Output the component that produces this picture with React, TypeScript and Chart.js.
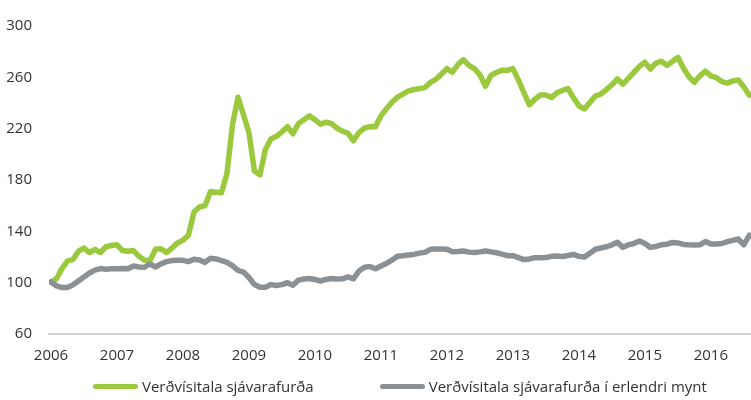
import React, { useEffect, useRef } from "react";
import { Chart, registerables } from "chart.js";

Chart.register(...registerables);

// Monthly values, Jan 2006 – Aug 2016
const yearTicks = [2006, 2007, 2008, 2009, 2010, 2011, 2012, 2013, 2014, 2015, 2016];

const seafoodIndex = [
  // 2006
  100.5, 103, 111, 117, 118, 124.5, 127, 123.5, 126, 123.5, 128, 129,
  // 2007
  129.5, 125, 124.5, 125, 120.5, 117.5, 117, 126, 126.5, 123.5, 127, 131,
  // 2008
  133, 137, 155, 159, 160, 171, 170.5, 170, 185, 223, 244.5, 231,
  // 2009
  217, 187, 184, 204, 212, 214, 217.5, 221.5, 216, 224, 227, 230,
  // 2010
  227, 223.5, 225, 224, 220.5, 218, 216.5, 210.5, 217, 220.5, 221.5, 221.5,
  // 2011
  230, 235.5, 240.5, 244.5, 247, 249.5, 250.5, 251.2, 252, 256, 258.5, 262.5,
  // 2012
  266.8, 264, 270, 273.8, 269.3, 266.8, 262, 253, 261.5, 263.8, 265.5, 265.5,
  // 2013
  266.8, 258, 248, 238.6, 242.9, 246.2, 246.2, 244.2, 248, 249.8, 251.3, 244.2,
  // 2014
  237.8, 235.3, 240.4, 245.4, 247, 250.4, 254.2, 258.7, 254.7, 259.2, 263.8, 268.5,
  // 2015
  271.8, 266.5, 271, 272.6, 269.3, 272.3, 275.6, 267.3, 260.5, 256.2, 261.2, 264.8,
  // 2016
  261.2, 259.7, 256.7, 255.5, 257.2, 258, 252.5, 246,
];

const seafoodIndexForeign = [
  // 2006
  100.5, 97.5, 96.2, 96.2, 98.3, 101.3, 104.5, 107.5, 109.8, 111, 110.5, 110.8,
  // 2007
  110.8, 111, 110.8, 113, 112.2, 112, 114.6, 112.2, 114.6, 116.4, 117.2, 117.4,
  // 2008
  117.4, 116.4, 118.3, 117.6, 115.8, 119, 118.5, 117.2, 115.8, 113.3, 109.6, 108.3,
  // 2009
  104, 98.5, 96.5, 96.5, 98.5, 97.8, 98.5, 100, 98, 102, 102.8, 103.3,
  // 2010
  102.5, 101.3, 102.5, 103.3, 102.8, 103, 104.5, 103, 109, 112, 112.5, 110.8,
  // 2011
  113, 115, 117.5, 120.6, 121, 121.6, 122, 123, 123.6, 126, 126.2, 126.2,
  // 2012
  126, 124, 124.3, 124.7, 123.8, 123.5, 124, 124.7, 124, 123.3, 122.2, 121,
  // 2013
  121, 119.5, 118, 118.5, 119.5, 119.5, 119.6, 120.5, 120.8, 120.4, 121.2, 122,
  // 2014
  120.5, 120, 123, 126, 127, 128, 129.5, 131.5, 127.5, 129.5, 130.5, 132.5,
  // 2015
  130.5, 127.5, 128.2, 129.5, 130, 131.3, 131, 129.8, 129.5, 129.3, 129.5, 132,
  // 2016
  130.2, 130.2, 130.5, 132, 133, 134, 129.5, 137,
];

const seriesNames = [
  "Verðvísitala sjávarafurða",
  "Verðvísitala sjávarafurða í erlendri mynt",
];
const seriesColors = ["#9bc93e", "#8b9095"];

const FONT = "'Open Sans', 'Noto Sans', sans-serif";
const TEXT_COLOR = "#333333";

export default function App() {
  const canvasRef = useRef<HTMLCanvasElement | null>(null);

  useEffect(() => {
    const canvas = canvasRef.current;
    if (!canvas) return;
    const firstYear = yearTicks[0];
    const toPoints = (arr: number[]) => arr.map((v, i) => ({ x: i, y: v }));
    const chart = new Chart(canvas, {
      type: "line",
      data: {
        datasets: [
          {
            label: seriesNames[0],
            data: toPoints(seafoodIndex),
            borderColor: seriesColors[0],
            backgroundColor: seriesColors[0],
            borderWidth: 5.5,
            pointRadius: 0,
            pointHoverRadius: 0,
            tension: 0,
            borderJoinStyle: "round",
            borderCapStyle: "round",
            order: 1,
          },
          {
            label: seriesNames[1],
            data: toPoints(seafoodIndexForeign),
            borderColor: seriesColors[1],
            backgroundColor: seriesColors[1],
            borderWidth: 5.5,
            pointRadius: 0,
            pointHoverRadius: 0,
            tension: 0,
            borderJoinStyle: "round",
            borderCapStyle: "round",
            order: 0,
          },
        ],
      },
      options: {
        animation: false,
        responsive: false,
        maintainAspectRatio: false,
        layout: { padding: { top: 16, left: 0, right: 0, bottom: 0 } },
        plugins: {
          legend: { display: false },
          tooltip: { enabled: false },
        },
        scales: {
          x: {
            type: "linear",
            min: -0.36,
            max: 127.3,
            afterBuildTicks: (axis: any) => {
              axis.ticks = yearTicks.map((y) => ({ value: (y - firstYear) * 12 }));
            },
            afterFit: (s: any) => {
              s.height = 66;
            },
            ticks: {
              autoSkip: false,
              maxRotation: 0,
              padding: 13,
              color: TEXT_COLOR,
              font: { family: FONT, size: 15 },
              callback: (v: any) => String(firstYear + Math.round(Number(v) / 12)),
            },
            grid: { display: false, drawTicks: false },
            border: { display: true, color: "#d3d3db", width: 2 },
          },
          y: {
            min: 60,
            max: 300,
            afterFit: (s: any) => {
              s.width = 49;
            },
            ticks: {
              stepSize: 40,
              padding: 17,
              color: TEXT_COLOR,
              font: { family: FONT, size: 15 },
            },
            grid: { display: false, drawTicks: false },
            border: { display: false },
          },
        },
      },
    });
    return () => chart.destroy();
  }, []);

  const legendItem = (i: number) => (
    <div key={i} style={{ display: "flex", alignItems: "center" }}>
      <span
        style={{
          display: "inline-block",
          width: 45,
          height: 5,
          borderRadius: 3,
          background: seriesColors[i],
          marginRight: 4,
        }}
      />
      <span>{seriesNames[i]}</span>
    </div>
  );

  return (
    <div
      style={{
        position: "absolute",
        left: 0,
        top: 0,
        width: 751,
        height: 400,
        background: "#ffffff",
      }}
    >
      <canvas ref={canvasRef} width={751} height={400} style={{ display: "block" }} />
      <div
        style={{
          position: "absolute",
          left: 93,
          top: 376,
          height: 20,
          display: "flex",
          alignItems: "center",
          gap: 66,
          fontFamily: FONT,
          fontSize: 15,
          color: TEXT_COLOR,
          whiteSpace: "nowrap",
        }}
      >
        {legendItem(0)}
        {legendItem(1)}
      </div>
    </div>
  );
}
